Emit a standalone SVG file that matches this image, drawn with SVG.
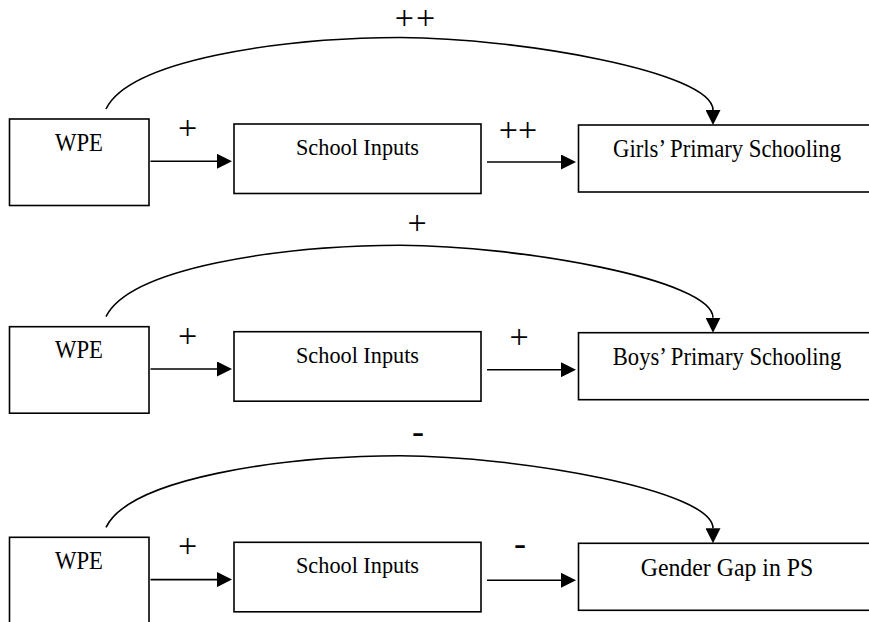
<svg xmlns="http://www.w3.org/2000/svg" width="869" height="622" viewBox="0 0 869 622">
  <style>
    .box { fill: #fff; stroke: #000; stroke-width: 1.6; }
    .lbl { font-family: "Liberation Serif", "Times New Roman", serif; fill: #000; text-anchor: middle; }
    .sign { font-family: "Liberation Serif", "Times New Roman", serif; fill: #000; font-size: 34px; text-anchor: middle; }
    .dash { font-family: "Liberation Serif", "Times New Roman", serif; fill: #000; font-size: 36px; text-anchor: middle; }
    .edge { fill: none; stroke: #000; stroke-width: 1.6; marker-end: url(#ah); }
  </style>
  <defs>
    <marker id="ah" markerUnits="userSpaceOnUse" markerWidth="15" markerHeight="15" refX="0" refY="7.5" orient="auto">
      <path d="M0,0 L15,7.5 L0,15 z" fill="#000"/>
    </marker>
  </defs>
  <rect width="869" height="622" fill="#fff"/>

  <!-- connectors -->
  <g id="connectors">
    <!-- row 1 -->
    <path class="edge" d="M106,109 C130,60 280,38 400,37.5 C520,38 713,72 713,110"/>
    <path class="edge" d="M150.5,161.3 H217"/>
    <path class="edge" d="M487,162 H561"/>
    <!-- row 2 -->
    <path class="edge" d="M106,316.7 C130,267.7 280,245.7 400,245.2 C520,245.7 713,279.7 713,317.7"/>
    <path class="edge" d="M150.5,369 H217"/>
    <path class="edge" d="M487,369.7 H561"/>
    <!-- row 3 -->
    <path class="edge" d="M106,527.3 C130,478.3 280,456.3 400,455.8 C520,456.3 713,490.3 713,528.3"/>
    <path class="edge" d="M150.5,579.6 H217"/>
    <path class="edge" d="M487,580.3 H561"/>

    <!-- effect signs -->
    <text class="sign" x="416" y="29" font-size="27" letter-spacing="2">++</text>
    <text class="sign" x="187.5" y="139.2">+</text>
    <text class="sign" x="518" y="140.5">++</text>

    <text class="sign" x="417" y="234.2">+</text>
    <text class="sign" x="187.5" y="346.9">+</text>
    <text class="sign" x="519" y="347.8">+</text>

    <text class="dash" x="418" y="443">-</text>
    <text class="sign" x="187.5" y="557.4">+</text>
    <text class="dash" x="520" y="555.4">-</text>
  </g>

  <!-- row 1 nodes -->
  <g id="wpe1">
    <rect class="box" x="9.5" y="119" width="139.5" height="86.5"/>
    <text class="lbl" x="79" y="150.7" font-size="25" textLength="48" lengthAdjust="spacingAndGlyphs">WPE</text>
  </g>
  <g id="inputs1">
    <rect class="box" x="234" y="124" width="247" height="69.5"/>
    <text class="lbl" x="357.5" y="155" font-size="23" textLength="123" lengthAdjust="spacingAndGlyphs">School Inputs</text>
  </g>
  <g id="girls">
    <rect class="box" x="578.5" y="125" width="320" height="67"/>
    <text class="lbl" x="727" y="157.3" font-size="25" textLength="228" lengthAdjust="spacingAndGlyphs">Girls’ Primary Schooling</text>
  </g>

  <!-- row 2 nodes -->
  <g id="wpe2">
    <rect class="box" x="9.5" y="326.7" width="139.5" height="86.5"/>
    <text class="lbl" x="79" y="358.4" font-size="25" textLength="48" lengthAdjust="spacingAndGlyphs">WPE</text>
  </g>
  <g id="inputs2">
    <rect class="box" x="234" y="331.7" width="247" height="69.5"/>
    <text class="lbl" x="357.5" y="362.7" font-size="23" textLength="123" lengthAdjust="spacingAndGlyphs">School Inputs</text>
  </g>
  <g id="boys">
    <rect class="box" x="578.5" y="332.7" width="320" height="67"/>
    <text class="lbl" x="727" y="365" font-size="25" textLength="228.5" lengthAdjust="spacingAndGlyphs">Boys’ Primary Schooling</text>
  </g>

  <!-- row 3 nodes -->
  <g id="wpe3">
    <rect class="box" x="9.5" y="537.3" width="139.5" height="86.5"/>
    <text class="lbl" x="79" y="569" font-size="25" textLength="48" lengthAdjust="spacingAndGlyphs">WPE</text>
  </g>
  <g id="inputs3">
    <rect class="box" x="234" y="542.3" width="247" height="69.5"/>
    <text class="lbl" x="357.5" y="573.3" font-size="23" textLength="123" lengthAdjust="spacingAndGlyphs">School Inputs</text>
  </g>
  <g id="gap">
    <rect class="box" x="578.5" y="543.3" width="320" height="67"/>
    <text class="lbl" x="727" y="575.6" font-size="25" textLength="172.6" lengthAdjust="spacingAndGlyphs">Gender Gap in PS</text>
  </g>
</svg>
